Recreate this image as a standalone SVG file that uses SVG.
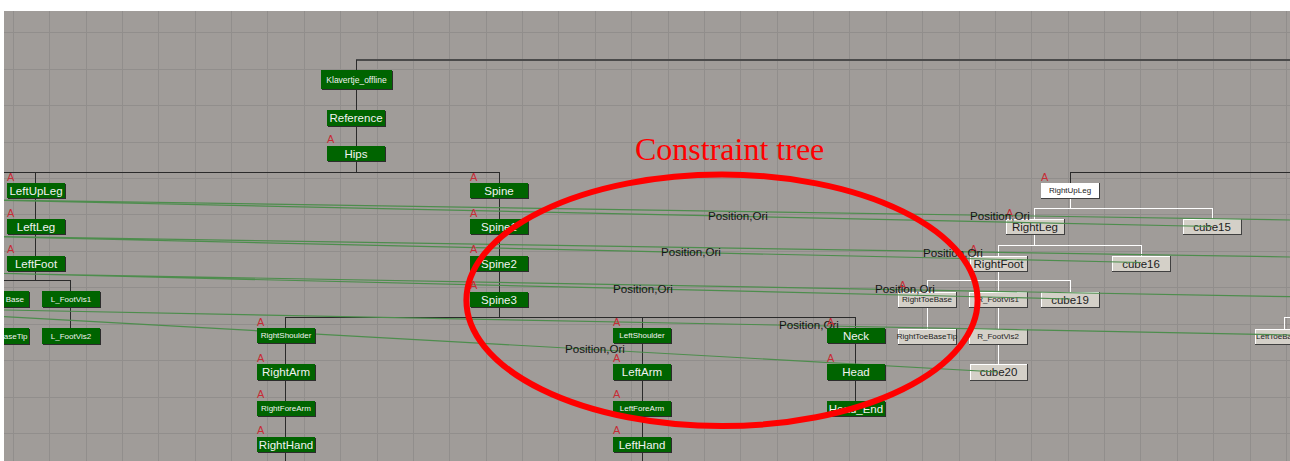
<svg xmlns="http://www.w3.org/2000/svg" width="1290" height="461" viewBox="0 0 1290 461">
<defs>
<clipPath id="area"><rect x="4" y="11" width="1286" height="450"/></clipPath>
</defs>
<style>
.bg{fill:#a09c99}
.grid{stroke:#918e8c;stroke-width:1;fill:none}
.sh{fill:#2c2c2c}
.gn{fill:#006400}
.lsh{fill:#404040}
.lhl{fill:#ffffff}
.lg{fill:#d4d0c8}
.wb{fill:#ffffff}
.tw{fill:#f2f2f2;font-family:"Liberation Sans",Arial,sans-serif;text-anchor:middle;dominant-baseline:central}
.tk{fill:#1c1c1c;font-family:"Liberation Sans",Arial,sans-serif;text-anchor:middle;dominant-baseline:central}
.big{font-size:11.5px}
.sm{font-size:8px}
.a{fill:#c62c36;font-family:"Liberation Sans",Arial,sans-serif;font-size:11px}
.tree{stroke:#2a2a2a;stroke-width:1;fill:none}
.wt{stroke:#ffffff;stroke-width:1;fill:none}
.con{stroke:#4d8d4d;stroke-width:1.2;fill:none}
.lab{fill:#141414;font-family:"Liberation Sans",Arial,sans-serif;font-size:11.6px}
</style>
<rect x="0" y="0" width="1290" height="461" fill="#ffffff"/>
<g clip-path="url(#area)">
<rect class="bg" x="4" y="11" width="1286" height="450"/>
<path class="grid" d="M13.5 11V461M49.5 11V461M86.5 11V461M122.5 11V461M158.5 11V461M195.5 11V461M231.5 11V461M267.5 11V461M304.5 11V461M340.5 11V461M377.5 11V461M413.5 11V461M449.5 11V461M486.5 11V461M522.5 11V461M558.5 11V461M595.5 11V461M631.5 11V461M668.5 11V461M704.5 11V461M740.5 11V461M777.5 11V461M813.5 11V461M849.5 11V461M886.5 11V461M922.5 11V461M959.5 11V461M995.5 11V461M1031.5 11V461M1068.5 11V461M1104.5 11V461M1140.5 11V461M1177.5 11V461M1213.5 11V461M1250.5 11V461M1286.5 11V461M4 32.5H1290M4 69.5H1290M4 105.5H1290M4 142.5H1290M4 178.5H1290M4 214.5H1290M4 251.5H1290M4 287.5H1290M4 324.5H1290M4 360.5H1290M4 397.5H1290M4 433.5H1290"/>

<g id="tree-connectors">
<line x1="356" y1="60" x2="1290" y2="60" stroke="#4a4a4a" stroke-width="2"/>
<path class="tree" d="M356.5 60V172M4 172.5H499.5M35.5 172V281M4 280.5H71M70.5 280V328M499.5 172V317M286 317.5H856M285.5 317V461M642.5 317V461M855.5 317V408M1070.5 172.5H1290M1070.5 172V183"/>
<path class="wt" d="M1070.5 198V208.5M1034 208.5H1213M1034.5 208V219M1212.5 208V219M1034.5 234V245M998 245.5H1142M998.5 245V256M1141.5 245V256M998.5 271V281M927 280.5H1071M927.5 280V292M998.5 280V292M1070.5 280V292M927.5 307V329M998.5 307V329M998.5 344V364M1284 317.5H1290M1284.5 317V329"/>
</g>

<g id="light-nodes">
<g id="n-rightupleg"><rect class="lsh" x="1041" y="183" width="59" height="16"/><rect class="wb" x="1041" y="183" width="58" height="15"/><text class="tk sm" x="1070" y="190.5">RightUpLeg</text><text class="a" x="1041" y="181">A</text></g>
<g id="n-rightleg"><rect class="lsh" x="1006" y="219" width="59" height="16"/><rect class="lhl" x="1006" y="219" width="58" height="15"/><rect class="lg" x="1007" y="220" width="57" height="14"/><text class="tk big" x="1035" y="226.5">RightLeg</text><text class="a" x="1006" y="217">A</text></g>
<g id="n-cube15"><rect class="lsh" x="1183" y="219" width="59" height="16"/><rect class="lhl" x="1183" y="219" width="58" height="15"/><rect class="lg" x="1184" y="220" width="57" height="14"/><text class="tk big" x="1212" y="226.5">cube15</text></g>
<g id="n-rightfoot"><rect class="lsh" x="970" y="256" width="58" height="16"/><rect class="lhl" x="970" y="256" width="57" height="15"/><rect class="lg" x="971" y="257" width="56" height="14"/><text class="tk big" x="998.5" y="263.5">RightFoot</text><text class="a" x="970" y="253">A</text></g>
<g id="n-cube16"><rect class="lsh" x="1112" y="256" width="59" height="16"/><rect class="lhl" x="1112" y="256" width="58" height="15"/><rect class="lg" x="1113" y="257" width="57" height="14"/><text class="tk big" x="1141" y="263.5">cube16</text></g>
<g id="n-righttoebase"><rect class="lsh" x="898" y="292" width="59" height="16"/><rect class="lhl" x="898" y="292" width="58" height="15"/><rect class="lg" x="899" y="293" width="57" height="14"/><text class="tk sm" x="927" y="299.5">RightToeBase</text><text class="a" x="899" y="289">A</text></g>
<g id="n-r_footvis1"><rect class="lsh" x="969" y="292" width="59" height="16"/><rect class="lhl" x="969" y="292" width="58" height="15"/><rect class="lg" x="970" y="293" width="57" height="14"/><text class="tk sm" x="998" y="299.5">R_FootVis1</text></g>
<g id="n-cube19"><rect class="lsh" x="1041" y="292" width="59" height="16"/><rect class="lhl" x="1041" y="292" width="58" height="15"/><rect class="lg" x="1042" y="293" width="57" height="14"/><text class="tk big" x="1070" y="299.5">cube19</text></g>
<g id="n-righttoebasetip"><rect class="lsh" x="898" y="329" width="59" height="16"/><rect class="lhl" x="898" y="329" width="58" height="15"/><rect class="lg" x="899" y="330" width="57" height="14"/><text class="tk sm" x="927" y="336.5">RightToeBaseTip</text></g>
<g id="n-r_footvis2"><rect class="lsh" x="969" y="329" width="59" height="16"/><rect class="lhl" x="969" y="329" width="58" height="15"/><rect class="lg" x="970" y="330" width="57" height="14"/><text class="tk sm" x="998" y="336.5">R_FootVis2</text></g>
<g id="n-cube20"><rect class="lsh" x="970" y="364" width="58" height="17"/><rect class="lhl" x="970" y="364" width="57" height="16"/><rect class="lg" x="971" y="365" width="56" height="15"/><text class="tk big" x="998.5" y="372">cube20</text></g>
<g id="n-lefttoebase"><rect class="lsh" x="1255" y="329" width="59" height="16"/><rect class="lhl" x="1255" y="329" width="58" height="15"/><rect class="lg" x="1256" y="330" width="57" height="14"/><text class="tk sm" x="1256" y="336.5" style="text-anchor:start">LeftToeBa</text></g>
</g>

<g id="constraint-connectors">
<path class="con" d="M4 200L1290 220M4 200.5L1212 226.5M4 236.7L1290 257M4 237L1141 262.5M4 273.5L1290 296.7M4 273.5L1070 299M4 310L1290 335M4 316.7L998 372"/>
<text class="lab" x="708" y="220">Position,Ori</text>
<text class="lab" x="970" y="220">Position,Ori</text>
<text class="lab" x="661" y="256">Position,Ori</text>
<text class="lab" x="923" y="257">Position,Ori</text>
<text class="lab" x="613" y="293">Position,Ori</text>
<text class="lab" x="875" y="293">Position,Ori</text>
<text class="lab" x="779" y="329">Position,Ori</text>
<text class="lab" x="565" y="353">Position,Ori</text>
</g>

<g id="green-nodes">
<g id="n-klavertje"><rect class="sh" x="322" y="71" width="71" height="19"/><rect class="gn" x="321" y="70" width="71" height="19"/><text class="tw" style="font-size:8.5px" x="356.5" y="79.5">Klavertje_offline</text></g>
<g id="n-reference"><rect class="sh" x="328" y="111" width="58" height="16"/><rect class="gn" x="327" y="110" width="58" height="16"/><text class="tw big" x="356" y="118">Reference</text></g>
<g id="n-hips"><rect class="sh" x="328" y="147" width="58" height="15"/><rect class="gn" x="327" y="146" width="58" height="15"/><text class="tw big" x="356" y="153.5">Hips</text><text class="a" x="327" y="143">A</text></g>
<g id="n-leftupleg"><rect class="sh" x="8" y="184" width="58" height="15"/><rect class="gn" x="7" y="183" width="58" height="15"/><text class="tw big" x="36" y="190.5">LeftUpLeg</text><text class="a" x="7" y="181">A</text></g>
<g id="n-leftleg"><rect class="sh" x="8" y="220" width="58" height="15"/><rect class="gn" x="7" y="219" width="58" height="15"/><text class="tw big" x="36" y="226.5">LeftLeg</text><text class="a" x="7" y="217">A</text></g>
<g id="n-leftfoot"><rect class="sh" x="8" y="257" width="58" height="15"/><rect class="gn" x="7" y="256" width="58" height="15"/><text class="tw big" x="36" y="263.5">LeftFoot</text><text class="a" x="7" y="253">A</text></g>
<g id="n-lefttoebase-l"><rect class="sh" x="-28" y="292" width="58" height="16"/><rect class="gn" x="-29" y="291" width="58" height="16"/><text class="tw sm" style="text-anchor:end" x="24" y="299">Base</text></g>
<g id="n-lefttoebasetip-l"><rect class="sh" x="-28" y="329" width="58" height="16"/><rect class="gn" x="-29" y="328" width="58" height="16"/><text class="tw sm" style="text-anchor:end" x="27.5" y="336">aseTip</text></g>
<g id="n-l_footvis1"><rect class="sh" x="43" y="292" width="58" height="16"/><rect class="gn" x="42" y="291" width="58" height="16"/><text class="tw sm" x="71" y="299">L_FootVis1</text></g>
<g id="n-l_footvis2"><rect class="sh" x="43" y="329" width="58" height="16"/><rect class="gn" x="42" y="328" width="58" height="16"/><text class="tw sm" x="71" y="336">L_FootVis2</text></g>
<g id="n-spine"><rect class="sh" x="471" y="184" width="58" height="15"/><rect class="gn" x="470" y="183" width="58" height="15"/><text class="tw big" x="499" y="190.5">Spine</text><text class="a" x="470" y="181">A</text></g>
<g id="n-spine1"><rect class="sh" x="471" y="220" width="58" height="15"/><rect class="gn" x="470" y="219" width="58" height="15"/><text class="tw big" x="499" y="226.5">Spine1</text><text class="a" x="470" y="217">A</text></g>
<g id="n-spine2"><rect class="sh" x="471" y="257" width="58" height="15"/><rect class="gn" x="470" y="256" width="58" height="15"/><text class="tw big" x="499" y="263.5">Spine2</text><text class="a" x="470" y="253">A</text></g>
<g id="n-spine3"><rect class="sh" x="471" y="293" width="58" height="15"/><rect class="gn" x="470" y="292" width="58" height="15"/><text class="tw big" x="499" y="299.5">Spine3</text><text class="a" x="470" y="289">A</text></g>
<g id="n-rightshoulder"><rect class="sh" x="258" y="329" width="58" height="15"/><rect class="gn" x="257" y="328" width="58" height="15"/><text class="tw sm" x="286" y="335.5">RightShoulder</text><text class="a" x="257" y="326">A</text></g>
<g id="n-rightarm"><rect class="sh" x="258" y="365" width="58" height="16"/><rect class="gn" x="257" y="364" width="58" height="16"/><text class="tw big" x="286" y="372">RightArm</text><text class="a" x="257" y="362">A</text></g>
<g id="n-rightforearm"><rect class="sh" x="258" y="402" width="58" height="15"/><rect class="gn" x="257" y="401" width="58" height="15"/><text class="tw sm" x="286" y="408.5">RightForeArm</text><text class="a" x="257" y="398">A</text></g>
<g id="n-righthand"><rect class="sh" x="258" y="438" width="58" height="15"/><rect class="gn" x="257" y="437" width="58" height="15"/><text class="tw big" x="286" y="444.5">RightHand</text><text class="a" x="257" y="434">A</text></g>
<g id="n-leftshoulder"><rect class="sh" x="614" y="329" width="58" height="15"/><rect class="gn" x="613" y="328" width="58" height="15"/><text class="tw sm" x="642" y="335.5">LeftShoulder</text><text class="a" x="613" y="326">A</text></g>
<g id="n-leftarm"><rect class="sh" x="614" y="365" width="58" height="16"/><rect class="gn" x="613" y="364" width="58" height="16"/><text class="tw big" x="642" y="372">LeftArm</text><text class="a" x="613" y="362">A</text></g>
<g id="n-leftforearm"><rect class="sh" x="614" y="402" width="58" height="15"/><rect class="gn" x="613" y="401" width="58" height="15"/><text class="tw sm" x="642" y="408.5">LeftForeArm</text><text class="a" x="613" y="398">A</text></g>
<g id="n-lefthand"><rect class="sh" x="614" y="438" width="58" height="15"/><rect class="gn" x="613" y="437" width="58" height="15"/><text class="tw big" x="642" y="444.5">LeftHand</text><text class="a" x="613" y="434">A</text></g>
<g id="n-neck"><rect class="sh" x="828" y="329" width="58" height="15"/><rect class="gn" x="827" y="328" width="58" height="15"/><text class="tw big" x="856" y="335.5">Neck</text><text class="a" x="827" y="326">A</text></g>
<g id="n-head"><rect class="sh" x="828" y="365" width="58" height="16"/><rect class="gn" x="827" y="364" width="58" height="16"/><text class="tw big" x="856" y="372">Head</text><text class="a" x="827" y="362">A</text></g>
<g id="n-head_end"><rect class="sh" x="828" y="402" width="58" height="15"/><rect class="gn" x="827" y="401" width="58" height="15"/><text class="tw big" x="856" y="408.5">Head_End</text></g>
</g>

<g id="annotation">
<ellipse cx="722" cy="300.3" rx="255.6" ry="125.8" fill="none" stroke="#ff0000" stroke-width="6"/>
<text x="635" y="160" font-family="'Liberation Serif','Times New Roman',serif" font-size="32" fill="#ff0000">Constraint tree</text>
</g>
</g>
</svg>
